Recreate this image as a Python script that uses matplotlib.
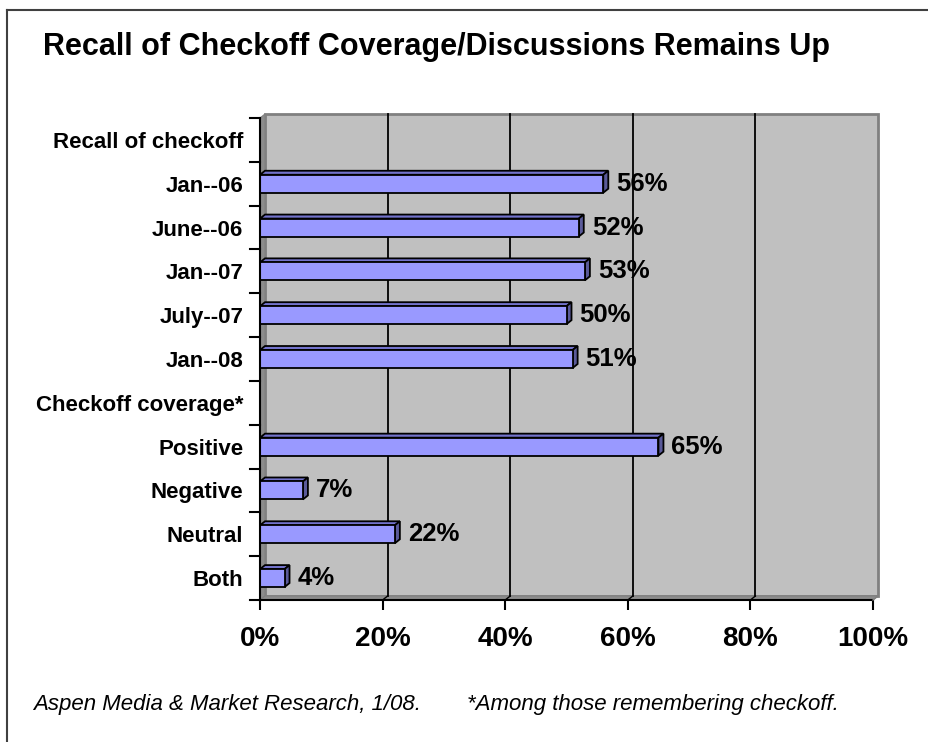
import matplotlib
matplotlib.use("Agg")
import matplotlib.pyplot as plt
from matplotlib.patches import Polygon
from matplotlib.lines import Line2D

plt.rcParams['font.family'] = ['Liberation Sans', 'DejaVu Sans']

categories = ["Recall of checkoff", "Jan--06", "June--06", "Jan--07", "July--07", "Jan--08",
              "Checkoff coverage*", "Positive", "Negative", "Neutral", "Both"]
values = [None, 56, 52, 53, 50, 51, None, 65, 7, 22, 4]
value_labels = ["", "56%", "52%", "53%", "50%", "51%", "", "65%", "7%", "22%", "4%"]
xticks = [0, 20, 40, 60, 80, 100]
xtick_labels = ["0%", "20%", "40%", "60%", "80%", "100%"]
title = "Recall of Checkoff Coverage/Discussions Remains Up"
note_left = "Aspen Media & Market Research, 1/08."
note_right = "*Among those remembering checkoff."

W, H = 929, 742
fig = plt.figure(figsize=(W / 100, H / 100), dpi=100)
fig.patch.set_facecolor("white")

# axes placement in pixels
ax_l, ax_r, ax_t, ax_b = 260, 873, 118, 600
ax = fig.add_axes([ax_l / W, 1 - ax_b / H, (ax_r - ax_l) / W, (ax_b - ax_t) / H])
ax.set_xlim(0, 100)
n = len(categories)
ax.set_ylim(n - 0.5, -0.5)
ax.patch.set_visible(False)
for s in ax.spines.values():
    s.set_visible(False)

px_x = 100 / (ax_r - ax_l)
px_y = n / (ax_b - ax_t)
dx = 5 * px_x
dy = 4 * px_y

top, bot = -0.5, n - 0.5
# back wall
ax.add_patch(Polygon([(dx, top - dy), (100 + dx, top - dy), (100 + dx, bot - dy), (dx, bot - dy)],
                     closed=True, facecolor="#C0C0C0", edgecolor="#808080", lw=2, zorder=0, clip_on=False))
# left wall
ax.add_patch(Polygon([(0, top), (dx, top - dy), (dx, bot - dy), (0, bot)], closed=True,
                     facecolor="#8C8C8C", edgecolor="#808080", lw=0.8, zorder=1, clip_on=False))
# floor
ax.add_patch(Polygon([(0, bot), (dx, bot - dy), (100 + dx, bot - dy), (100, bot)], closed=True,
                     facecolor="#8C8C8C", edgecolor="#808080", lw=0.8, zorder=1, clip_on=False))
# gridlines on back wall
for t in xticks[1:-1]:
    ax.plot([t + dx, t + dx], [top - dy, bot - dy], color="black", lw=1.3, zorder=1.5, clip_on=False)
    ax.plot([t, t + dx], [bot, bot - dy], color="black", lw=1.0, zorder=1.5, clip_on=False)

# bars
bh = 0.41
front_c, top_c, side_c = "#9999FF", "#7373CC", "#5A5A99"
for i, v in enumerate(values):
    if v is None:
        continue
    y0, y1 = i - bh / 2, i + bh / 2
    ax.barh(i, v, height=bh, left=0, color=front_c, edgecolor="black", lw=1.3, zorder=4)
    ax.add_patch(Polygon([(0, y0), (v, y0), (v + dx, y0 - dy), (dx, y0 - dy)], closed=True,
                         facecolor=top_c, edgecolor="black", lw=1.3, zorder=3, clip_on=False))
    ax.add_patch(Polygon([(v, y0), (v + dx, y0 - dy), (v + dx, y1 - dy), (v, y1)], closed=True,
                         facecolor=side_c, edgecolor="black", lw=1.3, zorder=3, clip_on=False))
    ax.annotate(value_labels[i], xy=(v + dx, i), xytext=(8, 0), textcoords="offset pixels",
                ha="left", va="center", fontsize=18.5, fontweight="bold", zorder=5)

# axes lines
ax.plot([0, 0], [top, bot], color="black", lw=1.5, zorder=6, clip_on=False)
ax.plot([0, 100], [bot, bot], color="black", lw=1.5, zorder=6, clip_on=False)
ax.plot([100, 100 + dx], [bot, bot - dy], color="#808080", lw=1, zorder=6, clip_on=False)

ax.set_xticks(xticks)
ax.set_xticklabels(xtick_labels, fontsize=20, fontweight="bold")
ax.set_yticks(range(n))
ax.set_yticklabels(categories, fontsize=16, fontweight="bold")
ax.tick_params(axis="y", length=0, pad=12)
ax.tick_params(axis="x", length=7, width=1.5, pad=12, direction="out")
# y ticks between categories
for k in range(n + 1):
    yk = k - 0.5
    ax.plot([-10 * px_x, 0], [yk, yk], color="black", lw=1.5, clip_on=False, zorder=6)

fig.text(437 / W, 1 - 55 / H, title, ha="center", va="baseline", fontsize=22, fontweight="bold")
fig.text(33 / W, 1 - 710 / H, note_left, ha="left", va="baseline", fontsize=16, style="italic")
fig.text(467 / W, 1 - 710 / H, note_right, ha="left", va="baseline", fontsize=16, style="italic")

# outer frame lines
fig.add_artist(Line2D([7 / W, 7 / W], [0, 1 - 10 / H], color="#404040", lw=1.5))
fig.add_artist(Line2D([7 / W, 1], [1 - 10 / H, 1 - 10 / H], color="#404040", lw=1.5))

fig.savefig("out.png", dpi=100)
